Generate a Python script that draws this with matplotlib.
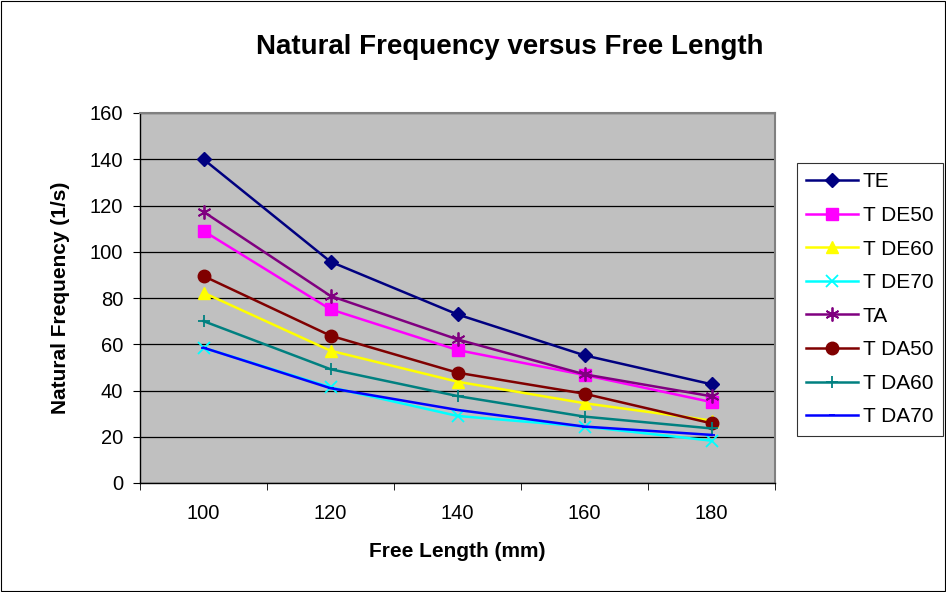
import matplotlib.pyplot as plt
from matplotlib.patches import Rectangle

plt.rcParams['font.family'] = ['Liberation Sans', 'DejaVu Sans']

# Datos
free_length = ['100', '120', '140', '160', '180']
te = [140, 95.7, 72.9, 55.2, 42.7]
tde50 = [109, 75.1, 57.5, 46.7, 35.0]
tde60 = [82.3, 57.2, 43.8, 34.5, 27.0]
tde70 = [58.5, 41.4, 29.0, 24.4, 18.3]
ta = [117.3, 80.9, 62.1, 47.0, 37.5]
tda50 = [89.5, 63.7, 47.7, 38.6, 25.8]
tda60 = [70.0, 49.2, 37.6, 28.7, 23.6]
tda70 = [58.5, 41.0, 31.6, 24.4, 20.8]

series = [
    ('TE', te, '#000080', 'D', 7.5),
    ('T DE50', tde50, '#FF00FF', 's', 8.5),
    ('T DE60', tde60, '#FFFF00', '^', 9),
    ('T DE70', tde70, '#00FFFF', 'x', 8),
    ('TA', ta, '#800080', (6, 2, 0), 10),
    ('T DA50', tda50, '#800000', 'o', 9),
    ('T DA60', tda60, '#008080', '+', 9),
    ('T DA70', tda70, '#0000FF', '_', 5),
]

fig = plt.figure(figsize=(9.46, 5.92), dpi=100)
ax = fig.add_axes([140 / 946, 1 - 483 / 592, 635 / 946, 370 / 592])
ax.set_facecolor('#C0C0C0')

x = list(range(len(free_length)))
for name, vals, color, marker, ms in series:
    mew = 1.3 if marker in ('x', '+', '_') or isinstance(marker, tuple) else 1
    ax.plot(x, vals, color=color, marker=marker, markersize=ms, linewidth=1.8,
            markeredgewidth=mew, label=name)

ax.set_xlim(-0.5, len(free_length) - 0.5)
ax.set_ylim(0, 160)
ax.set_yticks(range(0, 161, 20))
ax.set_xticks(x)
ax.set_xticklabels(free_length)
ax.set_xticks([i + 0.5 for i in range(-1, len(free_length))], minor=True)
ax.tick_params(axis='x', which='major', length=0, labelsize=14.5, pad=15)
ax.tick_params(axis='x', which='minor', length=5, direction='out', color='black')
ax.tick_params(axis='y', length=5, direction='out', labelsize=14.5, pad=7)
ax.yaxis.grid(True, color='black', linewidth=0.9)
ax.set_axisbelow(True)

for side in ['top', 'right']:
    ax.spines[side].set_color('#808080')
    ax.spines[side].set_linewidth(1.5)
for side in ['left', 'bottom']:
    ax.spines[side].set_color('black')
    ax.spines[side].set_linewidth(1)

ax.set_xlabel('Free Length (mm)', fontsize=15, fontweight='bold', labelpad=14)
ax.set_ylabel('Natural Frequency (1/s)', fontsize=15, fontweight='bold', labelpad=14)
fig.text(510 / 946, 1 - 47 / 592, 'Natural Frequency versus Free Length',
         ha='center', va='center', fontsize=20, fontweight='bold')

leg = ax.legend(loc='upper left', bbox_to_anchor=(797 / 946, 1 - 163 / 592),
                bbox_transform=fig.transFigure, fontsize=15, frameon=True,
                fancybox=False, edgecolor='black', borderpad=0.45,
                labelspacing=0.70, handlelength=2.5, handletextpad=0.2,
                borderaxespad=0)
leg.get_frame().set_linewidth(0.8)

fig.patches.append(Rectangle((0.001, 0.001), 0.998, 0.997, transform=fig.transFigure,
                             fill=False, edgecolor='black', linewidth=0.8))

fig.savefig('out.png', dpi=100)
